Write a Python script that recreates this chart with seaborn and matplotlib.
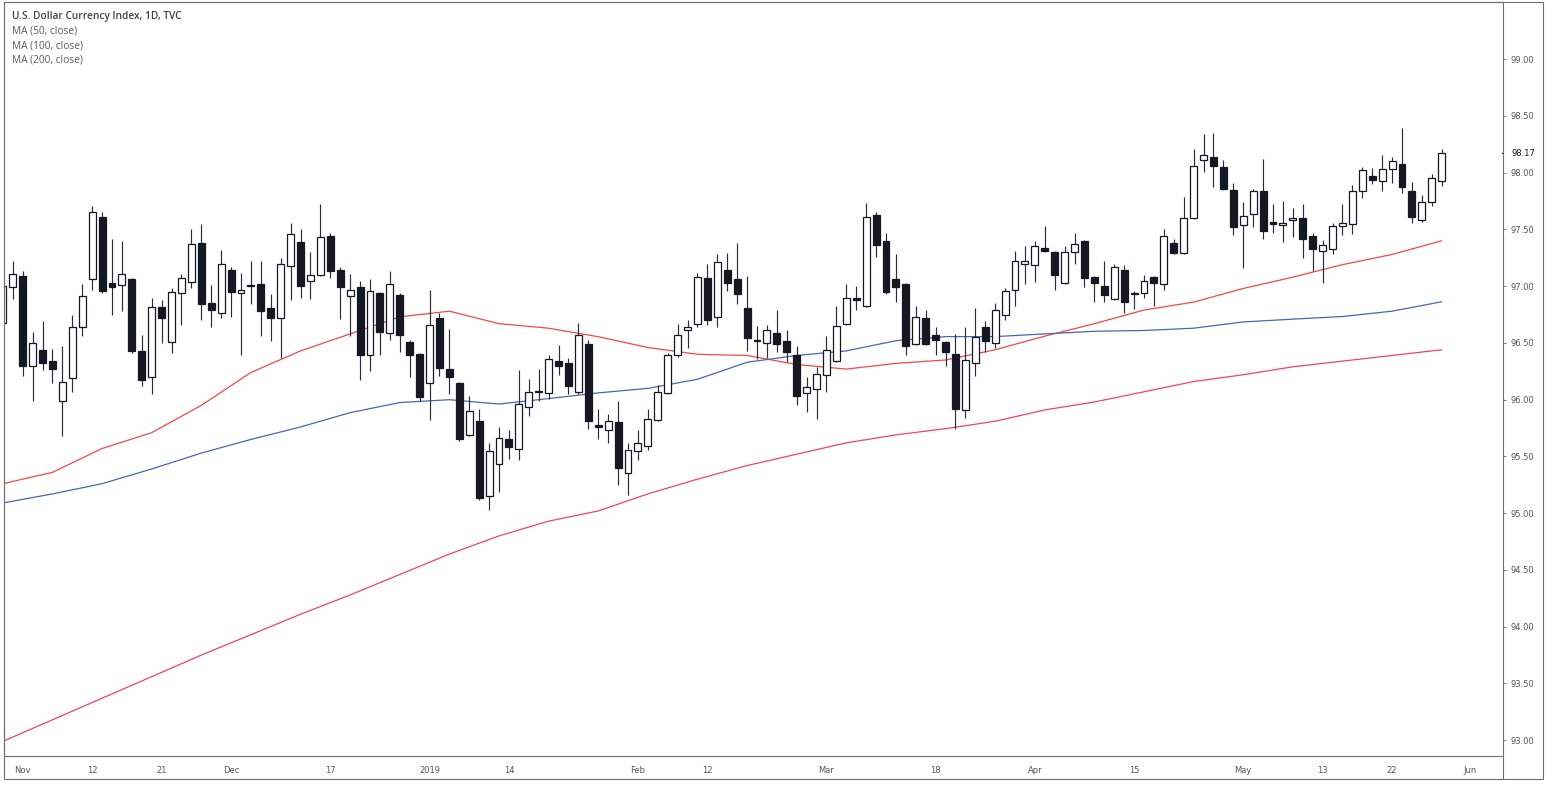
import numpy as np
import pandas as pd
import matplotlib
matplotlib.use("Agg")
import matplotlib.pyplot as plt
import seaborn as sns
from matplotlib.lines import Line2D
from matplotlib.patches import Rectangle

# ---------------- data ----------------
holidays = ["2018-11-22", "2018-12-25", "2019-01-01", "2019-01-21",
            "2019-02-18", "2019-04-19", "2019-05-27"]
dates = pd.bdate_range("2018-10-30", "2019-05-30", freq="C", holidays=holidays)

open_ = [96.68, 96.99, 97.09, 96.30, 96.44, 96.34, 95.99, 96.19, 96.64, 97.06,
         97.61, 97.03, 97.01, 97.06, 96.43, 96.20, 96.82, 96.51, 96.94, 97.04,
         97.38, 96.85, 96.76, 97.14, 96.94, 97.01, 97.02, 96.81, 96.72, 97.18,
         97.39, 97.05, 97.10, 97.44, 97.14, 96.91, 96.99, 96.39, 96.94, 96.59,
         96.92, 96.51, 96.40, 96.15, 96.72, 96.27, 96.15, 95.69, 95.81, 95.15,
         95.43, 95.65, 95.57, 95.94, 96.08, 96.06, 96.34, 96.32, 96.07, 96.49,
         95.78, 95.73, 95.80, 95.35, 95.55, 95.59, 95.82, 96.06, 96.39, 96.61,
         96.67, 97.07, 96.73, 97.14, 97.06, 96.81, 96.53, 96.50, 96.59, 96.52,
         96.39, 96.06, 96.09, 96.22, 96.34, 96.67, 96.90, 96.83, 97.63, 97.40,
         97.06, 97.02, 96.49, 96.72, 96.57, 96.51, 96.40, 95.91, 96.32, 96.64,
         96.50, 96.75, 96.97, 97.20, 97.19, 97.34, 97.30, 97.03, 97.30, 97.40,
         97.08, 97.00, 96.89, 97.14, 96.93, 96.94, 97.08, 97.02, 97.38, 97.29,
         97.60, 98.11, 98.14, 98.05, 97.85, 97.54, 97.64, 97.84, 97.57, 97.54,
         97.58, 97.60, 97.44, 97.31, 97.33, 97.53, 97.55, 97.84, 97.97, 97.93,
         98.03, 98.08, 97.84, 97.58, 97.74, 97.93]
high = [97.02, 97.22, 97.13, 96.60, 96.69, 96.45, 96.47, 96.75, 97.02, 97.71,
        97.65, 97.42, 97.40, 97.07, 96.57, 96.90, 96.88, 96.98, 97.11, 97.50,
        97.55, 97.01, 97.32, 97.17, 97.12, 97.22, 97.22, 96.93, 97.25, 97.56,
        97.50, 97.30, 97.72, 97.47, 97.17, 97.11, 97.05, 97.06, 96.95, 97.13,
        96.94, 96.53, 96.41, 96.97, 96.76, 96.62, 96.16, 96.03, 95.92, 95.62,
        95.76, 95.73, 96.26, 96.18, 96.27, 96.39, 96.48, 96.37, 96.68, 96.53,
        95.92, 95.87, 95.99, 95.62, 95.73, 95.92, 96.13, 96.41, 96.67, 96.70,
        97.12, 97.20, 97.28, 97.29, 97.38, 97.09, 96.65, 96.66, 96.79, 96.61,
        96.47, 96.20, 96.29, 96.56, 96.83, 97.02, 97.00, 97.73, 97.65, 97.47,
        97.28, 97.03, 96.83, 96.79, 96.64, 96.52, 96.58, 96.64, 96.81, 96.69,
        96.85, 96.98, 97.31, 97.35, 97.40, 97.53, 97.31, 97.35, 97.47, 97.41,
        97.09, 97.22, 97.20, 97.19, 96.96, 97.10, 97.09, 97.50, 97.42, 97.79,
        98.21, 98.34, 98.35, 98.11, 97.91, 97.74, 97.86, 98.12, 97.72, 97.75,
        97.69, 97.72, 97.47, 97.41, 97.56, 97.72, 97.89, 98.05, 98.04, 98.16,
        98.14, 98.39, 97.92, 97.80, 97.99, 98.21]
low = [96.65, 96.89, 96.21, 95.99, 96.26, 96.15, 95.68, 96.07, 96.56, 96.97,
       96.94, 96.75, 96.78, 96.41, 96.12, 96.05, 96.50, 96.41, 96.66, 96.98,
       96.70, 96.64, 96.72, 96.73, 96.39, 96.84, 96.56, 96.52, 96.37, 96.88,
       96.90, 96.89, 97.09, 97.07, 96.71, 96.56, 96.17, 96.25, 96.39, 96.53,
       96.42, 96.20, 95.99, 95.82, 96.21, 96.05, 95.64, 95.68, 95.12, 95.03,
       95.19, 95.48, 95.47, 95.86, 95.99, 96.01, 96.22, 96.05, 96.05, 95.74,
       95.65, 95.62, 95.25, 95.16, 95.47, 95.56, 95.81, 96.05, 96.38, 96.46,
       96.64, 96.66, 96.64, 96.96, 96.84, 96.43, 96.36, 96.37, 96.42, 96.33,
       95.95, 95.89, 95.83, 96.07, 96.33, 96.66, 96.79, 96.82, 97.26, 96.93,
       96.86, 96.39, 96.48, 96.48, 96.39, 96.30, 95.74, 95.84, 96.21, 96.42,
       96.46, 96.70, 96.83, 97.02, 97.04, 97.30, 96.97, 97.02, 97.20, 96.99,
       96.86, 96.86, 96.88, 96.76, 96.80, 96.90, 96.83, 96.97, 97.28, 97.28,
       97.59, 98.01, 97.87, 97.85, 97.45, 97.16, 97.52, 97.42, 97.47, 97.39,
       97.43, 97.25, 97.13, 97.03, 97.28, 97.45, 97.46, 97.78, 97.90, 97.84,
       97.91, 97.82, 97.56, 97.57, 97.71, 97.88]
close = [97.00, 97.11, 96.30, 96.50, 96.32, 96.27, 96.16, 96.64, 96.91, 97.65,
         96.96, 96.99, 97.11, 96.43, 96.17, 96.82, 96.72, 96.95, 97.07, 97.37,
         96.84, 96.79, 97.20, 96.95, 96.97, 97.00, 96.78, 96.72, 97.20, 97.46,
         97.00, 97.10, 97.43, 97.13, 96.99, 96.97, 96.39, 96.96, 96.60, 97.02,
         96.57, 96.39, 96.02, 96.66, 96.28, 96.20, 95.65, 95.90, 95.13, 95.55,
         95.66, 95.58, 95.96, 96.07, 96.07, 96.36, 96.30, 96.12, 96.57, 95.81,
         95.76, 95.81, 95.40, 95.56, 95.62, 95.83, 96.07, 96.39, 96.57, 96.64,
         97.08, 96.70, 97.21, 97.03, 96.93, 96.54, 96.52, 96.61, 96.49, 96.42,
         96.03, 96.11, 96.23, 96.44, 96.65, 96.90, 96.88, 97.61, 97.36, 96.95,
         96.99, 96.47, 96.73, 96.49, 96.53, 96.42, 95.92, 96.35, 96.55, 96.52,
         96.79, 96.96, 97.22, 97.22, 97.35, 97.31, 97.10, 97.30, 97.37, 97.07,
         97.03, 96.92, 97.17, 96.86, 96.94, 97.05, 97.03, 97.44, 97.29, 97.60,
         98.06, 98.16, 98.06, 97.86, 97.52, 97.62, 97.84, 97.49, 97.55, 97.56,
         97.60, 97.42, 97.33, 97.36, 97.53, 97.56, 97.84, 98.02, 97.94, 98.03,
         98.10, 97.87, 97.61, 97.74, 97.95, 98.17]

ma_sessions = [0, 5, 10, 15, 20, 25, 30, 35, 40, 45, 50, 55, 60, 65, 70, 75,
               80, 85, 90, 95, 100, 105, 110, 115, 120, 125, 130, 135, 140, 145]
ma50 = [95.26, 95.36, 95.57, 95.71, 95.95, 96.24, 96.43, 96.58, 96.73, 96.78,
        96.67, 96.63, 96.555, 96.46, 96.40, 96.39, 96.31, 96.27, 96.32, 96.35,
        96.44, 96.56, 96.67, 96.79, 96.86, 96.98, 97.08, 97.19, 97.28, 97.40]
ma100 = [95.09, 95.17, 95.26, 95.39, 95.53, 95.65, 95.76, 95.886, 95.975, 96.00,
         95.962, 96.01, 96.06, 96.10, 96.18, 96.33, 96.39, 96.43, 96.52, 96.556,
         96.556, 96.58, 96.603, 96.61, 96.63, 96.685, 96.71, 96.733, 96.78, 96.863]
ma200 = [92.99, 93.18, 93.37, 93.56, 93.75, 93.93, 94.11, 94.28, 94.46, 94.64,
         94.80, 94.93, 95.02, 95.17, 95.30, 95.42, 95.52, 95.62, 95.69, 95.745,
         95.81, 95.91, 95.98, 96.07, 96.16, 96.22, 96.29, 96.34, 96.39, 96.44]

tick_dates = ["2018-11-01", "2018-11-12", "2018-11-21", "2018-12-03", "2018-12-17",
              "2019-01-02", "2019-01-14", "2019-02-01", "2019-02-12", "2019-03-01",
              "2019-03-18", "2019-04-01", "2019-04-15", "2019-05-01", "2019-05-13",
              "2019-05-22", "2019-06-03"]
tick_labels = ["Nov", "12", "21", "Dec", "17", "2019", "14", "Feb", "12", "Mar",
               "18", "Apr", "15", "May", "13", "22", "Jun"]

legend_lines = ["U.S. Dollar Currency Index, 1D, TVC", "MA (50, close)",
                "MA (100, close)", "MA (200, close)"]

# ---------------- style ----------------
sns.set_theme(style="white")
plt.rcParams["font.family"] = ["DejaVu Sans"]

W, H = 1545, 787
fig = plt.figure(figsize=(W / 100, H / 100), dpi=100)
fig.patch.set_facecolor("white")
ax = fig.add_axes([4 / W, 1 - 756 / H, 1499 / W, 754 / H])
ax.set_facecolor("white")

DARK = "#151823"
WICK = "#2a2d36"
idx = np.arange(len(close))
o = np.array(open_); c = np.array(close); hi = np.array(high); lo = np.array(low)
up = c >= o

# wicks
ax.vlines(idx, lo, hi, color=WICK, linewidth=0.85, zorder=2)
# bodies
bottoms = np.minimum(o, c)
heights = np.maximum(np.abs(c - o), 0.004)
ax.bar(idx[up], heights[up], bottom=bottoms[up], width=0.7,
       color="white", edgecolor=DARK, linewidth=0.9, zorder=3)
ax.bar(idx[~up], heights[~up], bottom=bottoms[~up], width=0.7,
       color=DARK, edgecolor=DARK, linewidth=0.9, zorder=3)

# moving averages
ma_df = pd.DataFrame({"session": ma_sessions, "MA50": ma50, "MA100": ma100, "MA200": ma200})
sns.lineplot(data=ma_df, x="session", y="MA50", ax=ax, color="#f2474a", linewidth=0.9, zorder=1)
sns.lineplot(data=ma_df, x="session", y="MA100", ax=ax, color="#4a66b0", linewidth=0.9, zorder=1)
sns.lineplot(data=ma_df, x="session", y="MA200", ax=ax, color="#f2406f", linewidth=0.9, zorder=1)

# axes limits (session index on x, price on y)
ax.set_xlim(0.116, 151.18)
ax.set_ylim(92.861, 99.504)
ax.set_xlabel("")
ax.set_ylabel("")

# x ticks
date_pos = {d: i for i, d in enumerate(dates)}
xt = []
for d in tick_dates:
    ts = pd.Timestamp(d)
    if ts in date_pos:
        xt.append(date_pos[ts])
    else:
        xt.append(len(dates) - 1 + (ts - dates[-1]).days * 5 / 7)
ax.set_xticks(xt)
ax.set_xticklabels(tick_labels)

# y ticks on the right
ax.yaxis.tick_right()
yt = np.arange(93.0, 99.01, 0.5)
ax.set_yticks(yt)
ax.set_yticklabels([f"{v:.2f}" for v in yt])

ax.tick_params(axis="both", which="both", length=2.5, width=0.6, colors="#666666",
               labelsize=6, labelcolor="#555555")
ax.tick_params(axis="x", pad=5)
ax.tick_params(axis="y", pad=3)
for s in ax.spines.values():
    s.set_visible(True)
    s.set_color("#6e6e6e")
    s.set_linewidth(0.8)
ax.grid(False)

# last price label
ax.annotate(f"{close[-1]:.2f}", xy=(1, close[-1]), xycoords=("axes fraction", "data"),
            xytext=(6, 0), textcoords="offset points", ha="left", va="center",
            fontsize=6, color="#111111",
            bbox=dict(boxstyle="square,pad=0.25", fc="white", ec="none"))
ax.annotate("", xy=(1.0, close[-1]), xycoords=("axes fraction", "data"),
            xytext=(-2.5, 0), textcoords="offset points",
            arrowprops=dict(arrowstyle="-", color="#111111", lw=0.8))

# legend text
for k, txt in enumerate(legend_lines):
    fig.text(12 / W, 1 - (17 + 14.4 * k) / H, txt, ha="left", va="center",
             fontsize=7.3, family=["Open Sans", "DejaVu Sans"],
             color="#444444" if k == 0 else "#5a5a5a",
             fontweight="semibold" if k == 0 else "normal")

# outer frame
fig.add_artist(Rectangle((4 / W, 1 - 779 / H), 1539 / W, 777 / H, transform=fig.transFigure,
                         fill=False, edgecolor="#6e6e6e", linewidth=0.8))
fig.add_artist(Line2D([1503 / W, 1503 / W], [1 - 779 / H, 1 - 756 / H],
                      transform=fig.transFigure, color="#6e6e6e", linewidth=0.8))

fig.savefig("out.png", dpi=100, facecolor="white")
